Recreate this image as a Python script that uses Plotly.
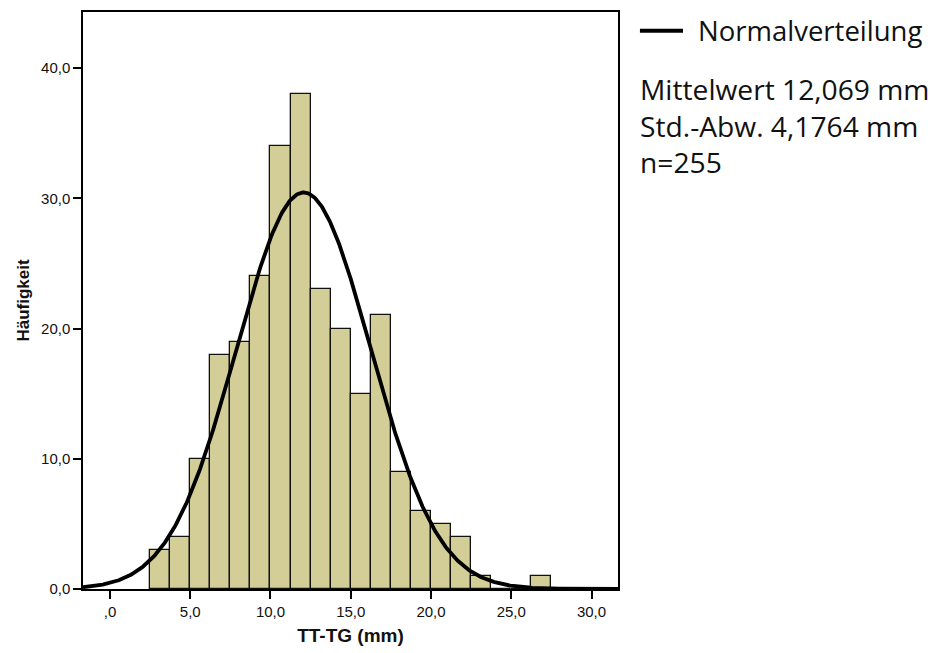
import numpy as np
import plotly.graph_objects as go

# Histogram of TT-TG distance (mm), bins of 1.25 mm starting at 2.5 mm
bin_start = 2.5
bin_width = 1.25
counts = [3, 4, 10, 18, 19, 24, 34, 38, 23, 20, 15, 21, 9, 6, 5, 4, 1, 0, 0, 1]

# Summary statistics
mean_mm = 12.069
sd_mm = 4.1764
n_total = 255

x_tick_vals = [0, 5, 10, 15, 20, 25, 30]
x_tick_text = [",0", "5,0", "10,0", "15,0", "20,0", "25,0", "30,0"]
y_tick_vals = [0, 10, 20, 30, 40]
y_tick_text = ["0,0", "10,0", "20,0", "30,0", "40,0"]

x_range = [-1.68, 31.65]
y_range = [0, 44.3]

centers = [bin_start + bin_width * (i + 0.5) for i in range(len(counts))]

# Normal curve scaled to counts per bin
xc = np.linspace(x_range[0], x_range[1], 600)
yc = n_total * bin_width / (sd_mm * np.sqrt(2 * np.pi)) * np.exp(-0.5 * ((xc - mean_mm) / sd_mm) ** 2)

fig = go.Figure()
fig.add_trace(go.Bar(
    x=centers, y=counts, width=bin_width,
    marker=dict(color="#D3CE97", line=dict(color="#111111", width=1.3)),
    showlegend=False,
))
fig.add_trace(go.Scatter(
    x=xc, y=yc, mode="lines",
    line=dict(color="black", width=3.8),
    showlegend=False,
))

axis_font = dict(family="Liberation Sans, Arial, sans-serif", size=15, color="#111111")

fig.update_xaxes(
    range=x_range, tickvals=x_tick_vals, ticktext=x_tick_text,
    ticks="outside", ticklen=8, tickwidth=1.5, tickcolor="black",
    showline=True, linecolor="black", linewidth=1.5, mirror=True,
    showgrid=False, zeroline=False, tickfont=axis_font,
    title=dict(text="<b>TT-TG (mm)</b>",
               font=dict(family="Liberation Sans, Arial, sans-serif", size=19, color="#111111"),
               standoff=10),
)
fig.update_yaxes(
    range=y_range, tickvals=y_tick_vals, ticktext=y_tick_text,
    ticks="outside", ticklen=8, tickwidth=1.5, tickcolor="black",
    showline=True, linecolor="black", linewidth=1.5, mirror=True,
    showgrid=False, zeroline=False, tickfont=axis_font,
    title=dict(text="<b>Häufigkeit</b>",
               font=dict(family="Liberation Sans, Arial, sans-serif", size=17, color="#111111"),
               standoff=7),
)

# Legend key for the normal curve
fig.add_shape(type="line", xref="paper", yref="paper",
              x0=1.041, x1=1.1215, y0=0.9675, y1=0.9675,
              line=dict(color="black", width=4))
fig.add_annotation(xref="paper", yref="paper", x=1.145, y=0.9675,
                   xanchor="left", yanchor="middle", showarrow=False,
                   text="Normalverteilung",
                   font=dict(family="Open Sans, sans-serif", size=27.5, color="#111111"))
fig.add_annotation(xref="paper", yref="paper", x=1.037, y=(591 - 66) / 581,
                   xanchor="left", yanchor="top", showarrow=False, align="left",
                   text=f"Mittelwert {str(mean_mm).replace('.', ',')} mm<br>"
                        f"Std.-Abw. {str(sd_mm).replace('.', ',')} mm<br>"
                        f"n={n_total}",
                   font=dict(family="Open Sans, sans-serif", size=28.2, color="#111111"))

fig.update_layout(
    width=936, height=653,
    margin=dict(l=83, r=318, t=10, b=62),
    paper_bgcolor="white", plot_bgcolor="white",
    bargap=0,
)

fig.write_html("out.html")
